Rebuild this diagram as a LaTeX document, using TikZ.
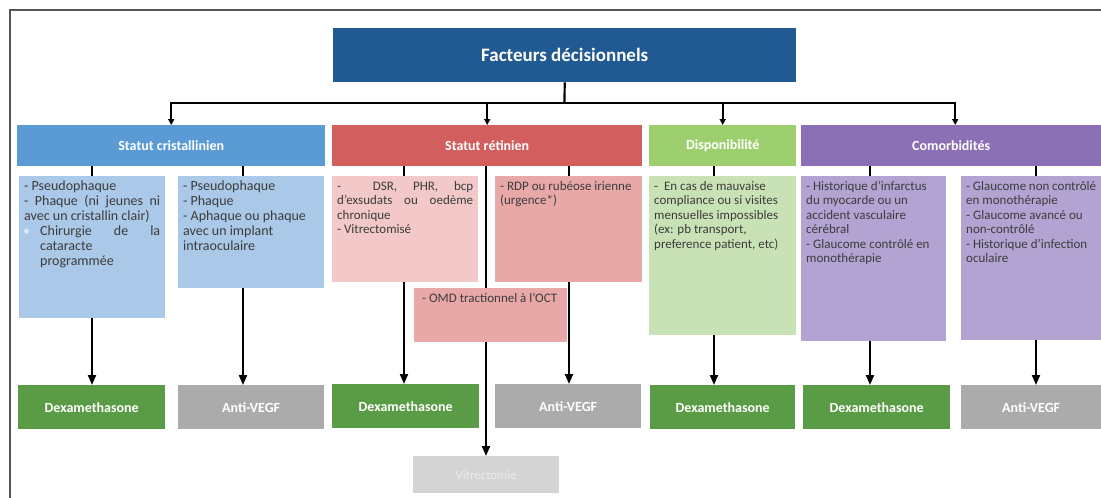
\documentclass[tikz,border=0pt]{standalone}
\usepackage{fontspec}
\setmainfont{Carlito}
\usetikzlibrary{arrows.meta}
\definecolor{ctitle}{HTML}{215A93}
\definecolor{hblue}{HTML}{5B9BD5}
\definecolor{sblue}{HTML}{AAC8E7}
\definecolor{hred}{HTML}{D25F5E}
\definecolor{sredA}{HTML}{F2C8C8}
\definecolor{sredB}{HTML}{E8A8A7}
\definecolor{hgreen}{HTML}{9DCF6E}
\definecolor{sgreen}{HTML}{C9E2B5}
\definecolor{hpurple}{HTML}{8C70B6}
\definecolor{spurple}{HTML}{B3A3D3}
\definecolor{cdex}{HTML}{5A9B46}
\definecolor{canti}{HTML}{ABABAB}
\definecolor{cvit}{HTML}{D4D4D4}
\definecolor{ctxt}{HTML}{3C3C3C}
\definecolor{cframe}{HTML}{555555}
\newcommand\subtext[3]{\parbox[c][\dimexpr#2pt-10pt\relax][t]{\dimexpr#1pt-10pt\relax}{\hyphenpenalty=10000\exhyphenpenalty=10000\tolerance=10000 #3}}
\begin{document}
\begin{tikzpicture}[x=1pt,y=-1pt,
  frame/.style={draw=cframe,line width=1.5pt},
  titlebox/.style={anchor=north west,inner sep=0pt,fill=ctitle,text=white,
    font=\fontsize{19}{21}\selectfont\bfseries,minimum width=463pt,minimum height=54pt},
  hdr/.style={anchor=north west,inner sep=0pt,text=white,
    font=\fontsize{14}{16}\selectfont\bfseries,minimum height=41pt},
  sub/.style={anchor=north west,inner xsep=5pt,inner ysep=5pt,text=ctxt,
    font=\fontsize{13}{14.5}\selectfont},
  subbig/.style={sub,font=\fontsize{14}{15}\selectfont},
  res/.style={anchor=north west,inner sep=0pt,minimum height=44pt,text=white,
    font=\fontsize{14}{16}\selectfont\bfseries},
  trunk/.style={draw=black,line width=2.2pt},
  toparr/.style={trunk,-{Triangle[length=6pt,width=6pt]}},
  link/.style={draw=black,line width=2pt},
  arr/.style={link,-{Triangle[length=10pt,width=8pt]}}
]
\useasboundingbox (0,0) rectangle (1101,498);
\draw[frame] (10,498) -- (10,10) -- (1102,10);

% title
\node[titlebox] (t) at (333,28) {Facteurs décisionnels};

% headers
\node[hdr,fill=hblue,minimum width=308pt] (hb) at (17,125) {Statut cristallinien};
\node[hdr,fill=hred,minimum width=310pt] (hr) at (332,125) {Statut rétinien};
\node[hdr,fill=hgreen,minimum width=147pt] (hg) at (649,125) {Disponibilité};
\node[hdr,fill=hpurple,minimum width=300pt] (hp) at (801,125) {Comorbidités};

% sub boxes
\node[subbig,fill=sblue] (b1) at (19,176) {\subtext{146}{142}{%
- Pseudophaque\par
- Phaque (ni jeunes ni\linebreak avec un cristallin clair)\par
\leftskip=16pt\noindent\llap{\textcolor{white!60!sblue}{•}\hspace{10pt}}Chirurgie de la\linebreak cataracte\linebreak programmée\par}};
\node[subbig,fill=sblue] (b2) at (178,176) {\subtext{146}{112}{\raggedright
- Pseudophaque\\
- Phaque\\
- Aphaque ou phaque\\
avec un implant\\
intraoculaire}};
\node[sub,fill=sredA] (r1) at (332,176) {\subtext{146}{106}{%
-\ \ DSR, PHR, bcp\linebreak d’exsudats ou oedème\linebreak chronique\par
- Vitrectomisé\par}};
\node[sub,fill=sredB] (r2) at (495,176) {\subtext{147}{106}{\raggedright
- RDP ou rubéose irienne\\
(urgence*)}};
\node[sub,fill=sredB] (r3) at (414,288) {\subtext{153}{54}{\raggedright
\hspace*{3pt}- OMD tractionnel à l’OCT}};
\node[sub,fill=sgreen] (g1) at (649,176) {\subtext{147}{159}{\raggedright
-\ \ En cas de mauvaise\\
compliance ou si visites\\
mensuelles impossibles\\
(ex: pb transport,\\
preference patient, etc)}};
\node[sub,fill=spurple] (p1) at (801,176) {\subtext{145}{165}{\raggedright
- Historique d’infarctus\\
du myocarde ou un\\
accident vasculaire\\
cérébral\\
- Glaucome contrôlé en\\
monothérapie}};
\node[sub,fill=spurple] (p2) at (961,176) {\subtext{140}{164}{\raggedright
- Glaucome non contrôlé\\
en monothérapie\\
- Glaucome avancé ou\\
non-contrôlé\\
- Historique d’infection\\
oculaire}};

% results
\node[res,fill=cdex,minimum width=147pt] (d1) at (18,385) {Dexamethasone};
\node[res,fill=canti,minimum width=146pt] (a1) at (178,385) {Anti-VEGF};
\node[res,fill=cdex,minimum width=147pt] (d2) at (332,384) {Dexamethasone};
\node[res,fill=canti,minimum width=146pt] (a2) at (495,384) {Anti-VEGF};
\node[res,fill=cdex,minimum width=145pt] (d3) at (650,385) {Dexamethasone};
\node[res,fill=cdex,minimum width=147pt] (d4) at (803,385) {Dexamethasone};
\node[res,fill=canti,minimum width=140pt] (a3) at (961,385) {Anti-VEGF};
\node[anchor=north west,inner sep=0pt,fill=cvit,minimum width=146pt,minimum height=37pt,
  text=white!92!black,font=\fontsize{12.8}{14}\selectfont] (vit) at (413,456) {Vitrectomie};

% top tree
\coordinate (hub) at (564.5,103);
\draw[trunk] (t.south) -- (hub);
\draw[toparr] (hub) -| (hb.north);
\draw[toparr] (hub) -| (hr.north);
\draw[toparr] (hub) -| (hg.north);
\draw[toparr] (hub) -| ([xshift=4pt]hp.north);

% x positions of connectors
\coordinate (x1) at (92,0);
\coordinate (x2) at (243,0);
\coordinate (x3) at (404,0);
\coordinate (x4) at (486,0);
\coordinate (x5) at (569,0);
\coordinate (x6) at (714,0);
\coordinate (x7) at (870,0);
\coordinate (x8) at (1036,0);

% header -> sub boxes
\draw[link] (hb.south -| x1) -- (b1.north -| x1);
\draw[link] (hb.south -| x2) -- (b2.north -| x2);
\draw[link] (hr.south -| x3) -- (r1.north -| x3);
\draw[link] (hr.south -| x4) -- (r3.north -| x4);
\draw[link] (hr.south -| x5) -- (r2.north -| x5);
\draw[link] (hg.south -| x6) -- (g1.north -| x6);
\draw[link] (hp.south -| x7) -- (p1.north -| x7);
\draw[link] (hp.south -| x8) -- (p2.north -| x8);

% sub boxes -> results
\draw[arr] (b1.south -| x1) -- (d1.north -| x1);
\draw[arr] (b2.south -| x2) -- (a1.north -| x2);
\draw[arr] (r1.south -| x3) -- (d2.north -| x3);
\draw[arr] (r3.south -| x4) -- (vit.north -| x4);
\draw[arr] (r2.south -| x5) -- (a2.north -| x5);
\draw[arr] (g1.south -| x6) -- (d3.north -| x6);
\draw[arr] (p1.south -| x7) -- (d4.north -| x7);
\draw[arr] (p2.south -| x8) -- (a3.north -| x8);
\end{tikzpicture}
\end{document}
